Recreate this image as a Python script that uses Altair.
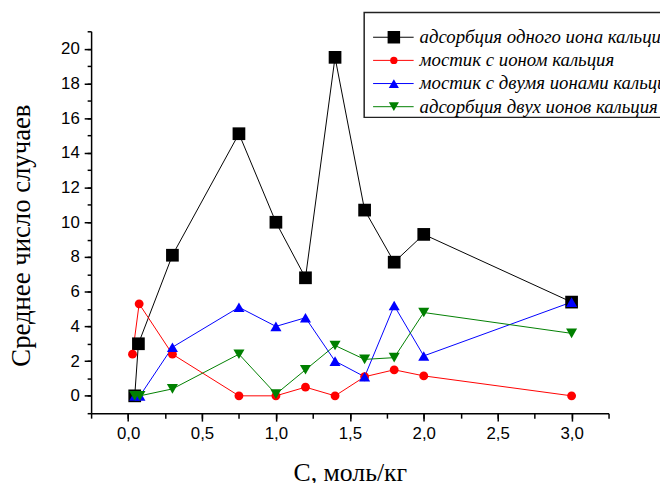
import altair as alt
import pandas as pd

series = [
    "адсорбция одного иона кальция",
    "мостик с ионом кальция",
    "мостик с двумя ионами кальция",
    "адсорбция двух ионов кальция",
]
colors = ["#000000", "#ff0000", "#0000ff", "#008000"]
shapes = ["square", "circle", "triangle-up", "triangle-down"]
sizes = [165, 80, 125, 125]
legend_sizes = [160, 55, 105, 105]

x_black = [0.045, 0.07, 0.3, 0.75, 1.0, 1.2, 1.4, 1.6, 1.8, 2.0, 3.0]
y_black = [0.0, 3.0, 8.1, 15.1, 10.0, 6.8, 19.5, 10.7, 7.7, 9.3, 5.4]
x_red = [0.03, 0.075, 0.3, 0.75, 1.0, 1.2, 1.4, 1.6, 1.8, 2.0, 3.0]
y_red = [2.4, 5.3, 2.4, 0.0, 0.0, 0.5, 0.0, 1.1, 1.5, 1.15, 0.0]
x_blue = [0.045, 0.08, 0.3, 0.75, 1.0, 1.2, 1.4, 1.6, 1.8, 2.0, 3.0]
y_blue = [0.0, 0.0, 2.8, 5.1, 4.0, 4.5, 2.0, 1.1, 5.2, 2.3, 5.4]
x_green = [0.045, 0.08, 0.3, 0.75, 1.0, 1.2, 1.4, 1.6, 1.8, 2.0, 3.0]
y_green = [0.0, 0.0, 0.4, 2.4, 0.1, 1.5, 2.9, 2.1, 2.2, 4.8, 3.6]

x_major = [0.0, 0.5, 1.0, 1.5, 2.0, 2.5, 3.0]
x_minor = [-0.25 + 0.25 * i for i in range(15)]
y_major = list(range(0, 21, 2))
y_minor = list(range(-1, 22))

rows = []
for name, xs, ys in zip(series, [x_black, x_red, x_blue, x_green],
                        [y_black, y_red, y_blue, y_green]):
    for xv, yv in zip(xs, ys):
        rows.append({"series": name, "c": xv, "n": yv})
df = pd.DataFrame(rows)

leg_df = pd.DataFrame({"series": series, "idx": list(range(len(series)))})

xscale = alt.Scale(domain=[-0.25, 3.25], nice=False, zero=False)
yscale = alt.Scale(domain=[-1, 21], nice=False, zero=False)
cscale = alt.Scale(domain=series, range=colors)

base = alt.Chart(df)

minor = base.mark_point(opacity=0).encode(
    x=alt.X("c:Q", scale=xscale,
            axis=alt.Axis(orient="bottom", values=x_minor, labels=False, domain=False,
                          tickSize=5, title=None, grid=False, tickWidth=1.5)),
    y=alt.Y("n:Q", scale=yscale,
            axis=alt.Axis(orient="left", values=y_minor, labels=False, domain=False,
                          tickSize=4, title=None, grid=False, tickWidth=1.5)),
)

lines = base.mark_line(strokeWidth=1).encode(
    x=alt.X("c:Q", scale=xscale,
            axis=alt.Axis(orient="bottom", values=x_major, tickSize=8, title="C, моль/кг",
                          labelExpr="replace(format(datum.value, '.1f'), '.', ',')",
                          labelPadding=5, titleBaseline="alphabetic", titleY=68,
                          titleFontSize=26, grid=False, tickWidth=1.5)),
    y=alt.Y("n:Q", scale=yscale,
            axis=alt.Axis(orient="left", values=y_major, tickSize=7,
                          title="Среднее число случаев", titleFontSize=27, titleY=206,
                          labelPadding=5, titlePadding=25, grid=False, tickWidth=1.5)),
    color=alt.Color("series:N", scale=cscale, legend=None),
)

point_layers = []
for i, s in enumerate(series):
    point_layers.append(
        base.transform_filter(alt.datum.series == s)
        .mark_point(filled=True, shape=shapes[i], size=sizes[i], color=colors[i], opacity=1)
        .encode(x=alt.X("c:Q", scale=xscale, axis=None),
                y=alt.Y("n:Q", scale=yscale, axis=None))
    )

# legend (drawn as marks, rows placed from the entry index)
lbase = alt.Chart(leg_df).transform_calculate(ly="6 + 23.4 * datum.idx")

leg_box = alt.Chart(leg_df).transform_filter("datum.idx == 0").mark_rect(
    fill="white", stroke="#222222", strokeWidth=1.5
).encode(x=alt.value(276), x2=alt.value(640), y=alt.value(-19), y2=alt.value(87))

leg_lines = lbase.mark_rule(strokeWidth=1).encode(
    x=alt.value(285), x2=alt.value(326),
    y=alt.Y("ly:Q", scale=None),
    color=alt.Color("series:N", scale=cscale, legend=None),
)

leg_points = []
for i, s in enumerate(series):
    leg_points.append(
        lbase.transform_filter(alt.datum.series == s)
        .mark_point(filled=True, shape=shapes[i], size=legend_sizes[i], color=colors[i], opacity=1)
        .encode(x=alt.value(306), y=alt.Y("ly:Q", scale=None))
    )

leg_text = lbase.mark_text(
    align="left", baseline="middle", font="Liberation Serif", fontStyle="italic",
    fontSize=19, color="black"
).encode(x=alt.value(332), y=alt.Y("ly:Q", scale=None), text="series:N")

chart = alt.layer(
    minor, lines, *point_layers, leg_box, leg_lines, *leg_points, leg_text
).resolve_axis(
    x="independent", y="independent"
).properties(
    width=523, height=386,
    autosize=alt.AutoSizeParams(type="none"),
    padding={"left": 84, "top": 21, "right": 52, "bottom": 68},
).configure_view(stroke=None).configure_axis(
    domainColor="black", domainWidth=1.5, tickColor="black",
    labelFont="Liberation Sans", labelFontSize=17, labelColor="black",
    titleFont="Liberation Serif", titleFontWeight="normal",
    titleColor="black",
)

chart.save("out.html", embed_options={"renderer": "svg", "actions": False})
